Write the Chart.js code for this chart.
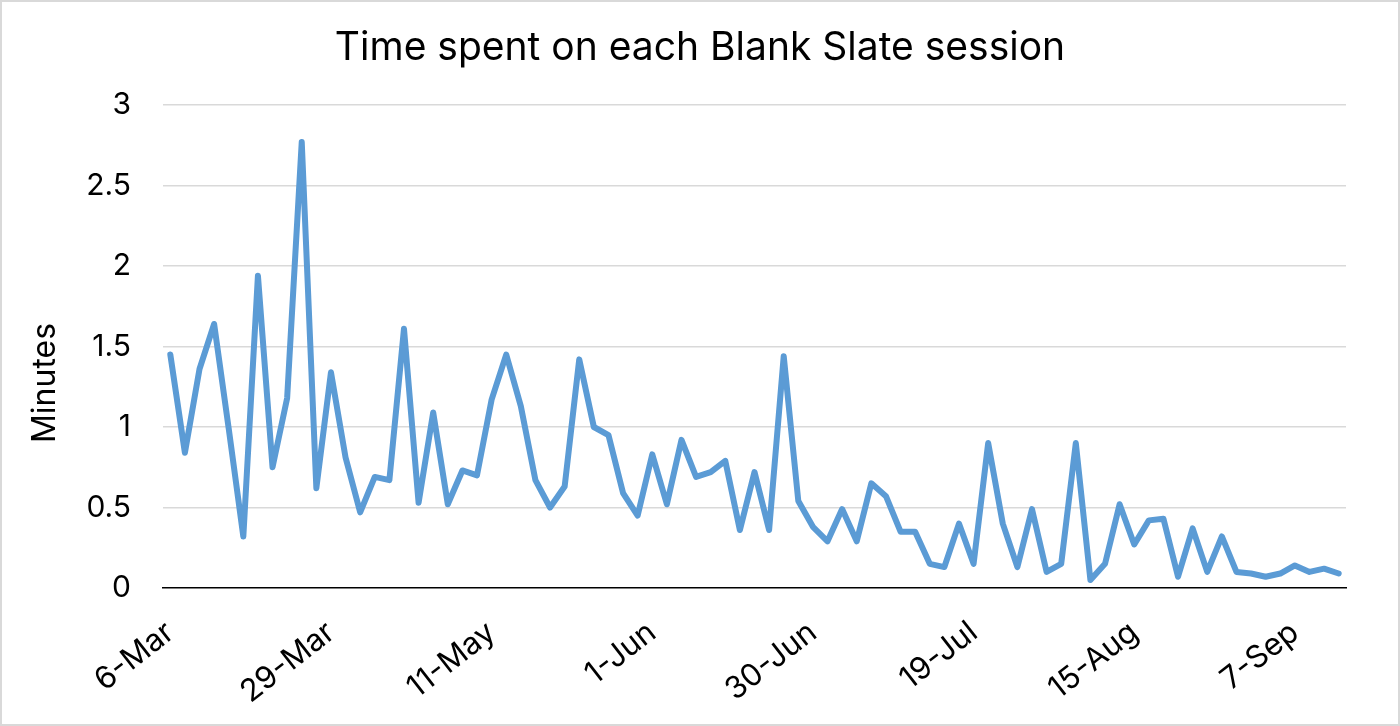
<!DOCTYPE html>
<html>
<head>
<meta charset="utf-8">
<script src="https://cdn.jsdelivr.net/npm/chart.js@4"></script>
<style>
  html, body { margin: 0; padding: 0; background: #fff; }
  #chart { display: block; outline: 2px solid #d9d9d9; outline-offset: -2px; }
</style>
</head>
<body>
<canvas id="chart" width="1400" height="726"></canvas>
<script>
// Session lengths in minutes, one value per session
const minutes = [
    1.45, 0.84, 1.36, 1.64, 0.99, 0.32, 1.94, 0.75, 1.18, 2.77,
    0.62, 1.34, 0.81, 0.47, 0.69, 0.67, 1.61, 0.53, 1.09, 0.52,
    0.73, 0.70, 1.17, 1.45, 1.13, 0.67, 0.50, 0.63, 1.42, 1.00,
    0.95, 0.59, 0.45, 0.83, 0.52, 0.92, 0.69, 0.72, 0.79, 0.36,
    0.72, 0.36, 1.44, 0.54, 0.38, 0.29, 0.49, 0.29, 0.65, 0.57,
    0.35, 0.35, 0.15, 0.13, 0.40, 0.15, 0.90, 0.40, 0.13, 0.49,
    0.10, 0.15, 0.90, 0.05, 0.15, 0.52, 0.27, 0.42, 0.43, 0.07,
    0.37, 0.10, 0.32, 0.10, 0.09, 0.07, 0.09, 0.14, 0.10, 0.12, 0.09
];

// Only every 11th session gets a date label on the axis
const tickLabels = ['6-Mar', '29-Mar', '11-May', '1-Jun', '30-Jun', '19-Jul', '15-Aug', '7-Sep'];
const tickEvery = 11;
const chartTitle = 'Time spent on each Blank Slate session';
const yTitle = 'Minutes';

let sessions = minutes.map(function (m, i) {
    return i % tickEvery == 0 ? tickLabels[i / tickEvery] : '';
});

// Chart title centred on the canvas, axis title sits a bit below the middle like in Excel
const textLayer = {
    id: 'textLayer',
    afterDraw: function (chart) {
        let c = chart.ctx;
        c.save();
        c.fillStyle = '#000';
        c.textAlign = 'center';
        c.textBaseline = 'alphabetic';
        c.font = '39px Inter';
        c.fillText(chartTitle, chart.width / 2, 60);

        c.font = '32px Inter';
        c.textBaseline = 'middle';
        c.translate(45, 383);
        c.rotate(-Math.PI / 2);
        c.fillText(yTitle, 0, 0);
        c.restore();
    }
};

const ctx = document.getElementById('chart');

let chart = new Chart(ctx, {
    type: 'line',
    data: {
        labels: sessions,
        datasets: [{
            label: yTitle,
            data: minutes,
            borderColor: '#5b9bd5',
            borderWidth: 6,
            borderJoinStyle: 'round',
            borderCapStyle: 'round',
            pointRadius: 0,
            tension: 0,
            fill: false
        }]
    },
    options: {
        responsive: false,
        animation: false,
        layout: {
            padding: { left: 0, right: 54, top: 105, bottom: 0 }
        },
        scales: {
            x: {
                offset: true,
                grid: { display: false },
                border: { display: true, color: '#000', width: 1.5 },
                ticks: {
                    autoSkip: false,
                    maxRotation: 38,
                    minRotation: 38,
                    padding: 18,
                    color: '#000',
                    font: { family: 'Inter', size: 31 }
                },
                afterFit: function (scale) { scale.height = 138; }
            },
            y: {
                min: 0,
                max: 3,
                ticks: {
                    stepSize: 0.5,
                    padding: 32,
                    color: '#000',
                    font: { family: 'Inter', size: 30 },
                    callback: function (v) { return String(v); }
                },
                grid: {
                    drawTicks: false,
                    lineWidth: 1.5,
                    color: function (c) { return c.tick.value == 0 ? 'rgba(0,0,0,0)' : '#d9d9d9'; }
                },
                border: { display: false },
                afterFit: function (scale) { scale.width = 163; }
            }
        },
        plugins: {
            legend: { display: false },
            tooltip: { enabled: false },
            title: { display: false }
        }
    },
    plugins: [textLayer]
});
</script>
</body>
</html>
